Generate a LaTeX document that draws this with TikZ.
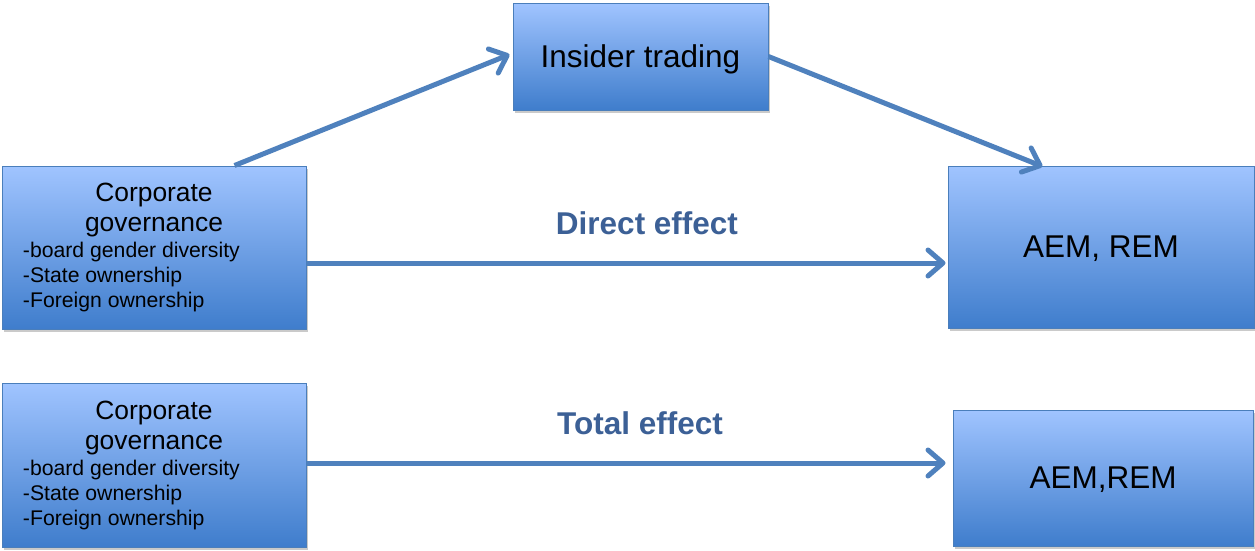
\documentclass[tikz,border=0pt]{standalone}
\usepackage{fontspec}
\setmainfont{Liberation Sans}
\usetikzlibrary{arrows.meta,shadows}
\definecolor{boxtop}{HTML}{A0C4FF}
\definecolor{boxbot}{HTML}{3F7DCC}
\definecolor{boxline}{HTML}{4A7EBB}
\definecolor{arrowcol}{HTML}{4F81BD}
\definecolor{labelcol}{HTML}{3C6096}
\tikzset{
  box/.style={draw=boxline, line width=1pt, top color=boxtop, bottom color=boxbot,
    inner sep=0pt, align=center,
    drop shadow={shadow xshift=2pt, shadow yshift=-3pt, opacity=0.35, fill=black!60}},
  conn/.style={draw=arrowcol, line width=5pt, -{Straight Barb[length=15pt, width=26pt, round]}},
  efflabel/.style={text=labelcol, font=\fontsize{31.5}{36}\selectfont\bfseries, inner sep=0pt},
  bigtext/.style={font=\fontsize{31.5}{36}\selectfont, text depth=0pt}
}
\newcommand{\cgtext}{%
\begin{minipage}{262pt}
\centering\fontsize{26.4}{30}\selectfont Corporate\\governance\par
\vspace{1pt}
\raggedright\fontsize{21.2}{25}\selectfont -board gender diversity\\-State ownership\\-Foreign ownership
\end{minipage}}
\begin{document}
\begin{tikzpicture}[x=1pt,y=-1pt]
\useasboundingbox (0,0) rectangle (1255,550);
\node[box, minimum width=304pt, minimum height=163pt] (cg1) at (154,247.5) {\cgtext};
\node[box, bigtext, minimum width=255pt, minimum height=107pt] (it) at (640.5,56.5) {Insider trading};
\node[box, bigtext, minimum width=306pt, minimum height=162pt] (aem1) at (1101,247) {AEM, REM};
\node[box, minimum width=304pt, minimum height=164pt] (cg2) at (154,465) {\cgtext};
\node[box, bigtext, minimum width=300pt, minimum height=136pt] (aem2) at (1103,478) {AEM,REM};
\node[efflabel] (de) at (647,223) {Direct effect};
\node[efflabel] (te) at (640,423) {Total effect};
\coordinate (tstart) at ([yshift=2pt]cg2.east);
\coordinate (tend) at ([xshift=-7pt]aem2.west |- tstart);
\draw[conn] ([xshift=-72pt]cg1.north east) -- ([xshift=-3pt,yshift=2pt]it.west);
\draw[conn] (it.east) -- ([xshift=95pt,yshift=-1pt]aem1.north west);
\draw[conn] ([yshift=-15.5pt]cg1.east) -- ([xshift=-2pt,yshift=-16pt]aem1.west);
\draw[conn] (tstart) -- (tend);
\end{tikzpicture}
\end{document}
